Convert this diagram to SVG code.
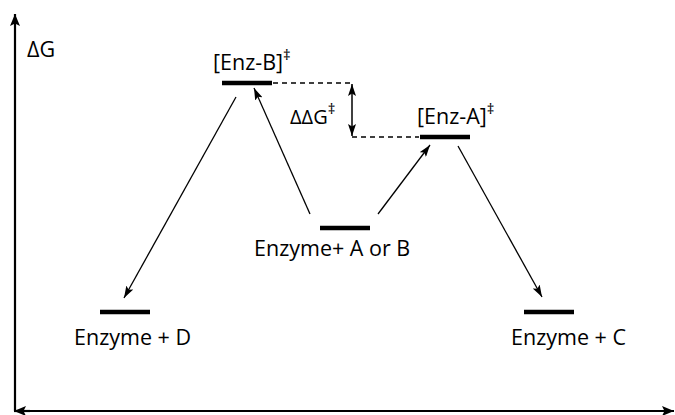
<svg xmlns="http://www.w3.org/2000/svg" width="675" height="415" viewBox="0 0 675 415">
<style>
text{font-family:"Open Sans","Noto Sans","DejaVu Sans",sans-serif;font-size:21.5px;fill:#000}
.lvl{stroke:#000;stroke-width:4.5}
.arr{stroke:#000;stroke-width:1.3;fill:none;marker-end:url(#ah)}
.ax{stroke:#000;stroke-width:2.2;fill:none}
.dash{stroke:#000;stroke-width:1.3;stroke-dasharray:5,4;fill:none}
.sup{font-size:15px}
</style>
<defs>
<marker id="ah" viewBox="0 0 12 8" refX="12" refY="4" markerWidth="12" markerHeight="8" markerUnits="userSpaceOnUse" orient="auto">
<path d="M0,0 L12,4 L0,8 L2.5,4 Z" fill="#000"/>
</marker>
<marker id="axh" viewBox="0 0 12 10" refX="12" refY="5" markerWidth="12" markerHeight="10" markerUnits="userSpaceOnUse" orient="auto">
<path d="M0,0 L12,5 L0,10 L2.5,5 Z" fill="#000"/>
</marker>
<marker id="dh" viewBox="0 0 12 8" refX="12" refY="4" markerWidth="12" markerHeight="8" markerUnits="userSpaceOnUse" orient="auto-start-reverse">
<path d="M0,0 L12,4 L0,8 L2.5,4 Z" fill="#000"/>
</marker>
</defs>
<g id="axes">
<line class="ax" x1="15" y1="411" x2="15" y2="14" marker-end="url(#axh)"/>
<line class="ax" x1="30" y1="411" x2="14" y2="411" marker-end="url(#axh)"/>
<line class="ax" x1="30" y1="411" x2="674" y2="411" marker-end="url(#axh)"/>
<text x="27" y="57">ΔG</text>
</g>
<g id="node-enzB">
<line class="lvl" x1="222" y1="83" x2="272" y2="83"/>
<text x="213" y="70">[Enz-B]<tspan class="sup" dy="-10">‡</tspan></text>
</g>
<g id="node-enzA">
<line class="lvl" x1="420" y1="137" x2="470" y2="137"/>
<text x="417" y="124">[Enz-A]<tspan class="sup" dy="-10">‡</tspan></text>
</g>
<g id="node-start">
<line class="lvl" x1="320" y1="228" x2="370" y2="228"/>
<text x="254" y="256">Enzyme+ A or B</text>
</g>
<g id="node-D">
<line class="lvl" x1="100" y1="312" x2="150" y2="312"/>
<text x="74" y="345">Enzyme + D</text>
</g>
<g id="node-C">
<line class="lvl" x1="524" y1="312" x2="574" y2="312"/>
<text x="511" y="345">Enzyme + C</text>
</g>
<g id="ddg">
<line class="dash" x1="273" y1="83" x2="352" y2="83"/>
<line class="dash" x1="352" y1="137" x2="419" y2="137"/>
<line stroke="#000" stroke-width="1.5" x1="352" y1="84" x2="352" y2="136" marker-start="url(#dh)" marker-end="url(#dh)"/>
<text x="290" y="124" style="font-size:20px">ΔΔG<tspan class="sup" dy="-10">‡</tspan></text>
</g>
<g id="connectors">
<line class="arr" x1="236" y1="97" x2="124" y2="298"/>
<line class="arr" x1="310" y1="214" x2="254" y2="88"/>
<line class="arr" x1="378" y1="214" x2="430" y2="145"/>
<line class="arr" x1="458" y1="146" x2="542" y2="297"/>
</g>
</svg>
